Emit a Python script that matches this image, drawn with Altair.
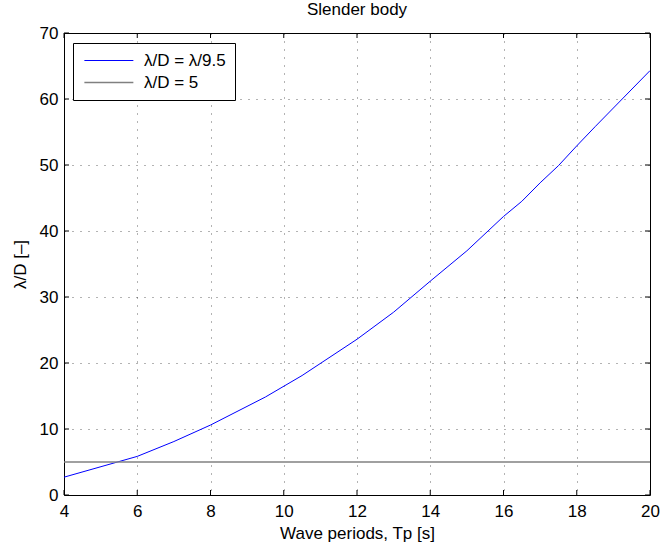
import altair as alt
import pandas as pd

# Curve: lambda/D = lambda/9.5
tp_curve = [4, 6, 7, 8, 9.5, 10.5, 12, 13, 14, 15, 16, 16.5, 17, 17.5, 18, 18.5, 20]
ld_curve = [2.7, 5.85, 8.1, 10.6, 14.85, 18.1, 23.6, 27.7, 32.4, 37.0, 42.2, 44.5, 47.3, 49.9, 52.9, 55.8, 64.3]

# Horizontal limit lambda/D = 5
tp_limit = [4, 20]
ld_limit = [5, 5]

series_names = ["λ/D = λ/9.5", "λ/D = 5"]
series_colors = ["#0000ff", "#808080"]
series_widths = [1.0, 1.6]

x_ticks = [4, 6, 8, 10, 12, 14, 16, 18, 20]
y_ticks = [0, 10, 20, 30, 40, 50, 60, 70]

FONT = "Liberation Sans"
W, H = 586, 462
TICK = 5

df = pd.concat([
    pd.DataFrame({"Tp": tp_curve, "LD": ld_curve, "series": series_names[0], "order": range(len(tp_curve))}),
    pd.DataFrame({"Tp": tp_limit, "LD": ld_limit, "series": series_names[1], "order": range(len(tp_limit))}),
])

xscale = alt.Scale(domain=[4, 20], nice=False, zero=False)
yscale = alt.Scale(domain=[0, 70], nice=False, zero=False)

lines = alt.Chart(df).mark_line(clip=True).encode(
    x=alt.X("Tp:Q", scale=xscale, title="Wave periods, Tp [s]",
            axis=alt.Axis(values=x_ticks, grid=True, domain=False, ticks=False,
                          labelPadding=8, titlePadding=6, labelFlush=False)),
    y=alt.Y("LD:Q", scale=yscale, title="λ/D [–]",
            axis=alt.Axis(values=y_ticks, grid=True, domain=False, ticks=False,
                          labelPadding=6, titlePadding=10, labelFlush=False)),
    color=alt.Color("series:N", scale=alt.Scale(domain=series_names, range=series_colors),
                    title=None,
                    legend=alt.Legend(orient="none", legendX=9, legendY=10,
                                      symbolType="M-1,0H7", symbolSize=150,
                                      symbolStrokeWidth=1.5, labelFontSize=17,
                                      labelFont=FONT, labelColor="black",
                                      labelOffset=45, padding=9, rowPadding=4,
                                      strokeColor="black", fillColor="white",
                                      cornerRadius=0)),
    strokeWidth=alt.StrokeWidth("series:N", scale=alt.Scale(domain=series_names, range=series_widths), legend=None),
    detail="series:N",
    order="order:Q",
)

xt = pd.DataFrame({"Tp": x_ticks})
yt = pd.DataFrame({"LD": y_ticks})

xticks_bottom = alt.Chart(xt).mark_rule(color="black", strokeWidth=1).encode(
    x=alt.X("Tp:Q", scale=xscale), y=alt.value(H), y2=alt.value(H - TICK))
xticks_top = alt.Chart(xt).mark_rule(color="black", strokeWidth=1).encode(
    x=alt.X("Tp:Q", scale=xscale), y=alt.value(0), y2=alt.value(TICK))
yticks_left = alt.Chart(yt).mark_rule(color="black", strokeWidth=1).encode(
    y=alt.Y("LD:Q", scale=yscale), x=alt.value(0), x2=alt.value(TICK))
yticks_right = alt.Chart(yt).mark_rule(color="black", strokeWidth=1).encode(
    y=alt.Y("LD:Q", scale=yscale), x=alt.value(W), x2=alt.value(W - TICK))

chart = alt.layer(lines, xticks_bottom, xticks_top, yticks_left, yticks_right).properties(
    width=W, height=H,
    title=alt.TitleParams("Slender body", fontSize=17, font=FONT, fontWeight="normal",
                          color="black", anchor="middle", frame="group", offset=5),
    autosize=alt.AutoSizeParams(type="none"),
    padding={"left": 64, "top": 33, "right": 10, "bottom": 50},
).configure(
    background="white"
).configure_view(
    stroke="black", strokeWidth=1
).configure_axis(
    labelFont=FONT, titleFont=FONT, labelFontSize=17, titleFontSize=17,
    labelColor="black", titleColor="black", titleFontWeight="normal",
    gridColor="black", gridDash=[1, 7], gridOpacity=0.6, gridWidth=1,
)

chart.save("out.html", embed_options={"renderer": "svg", "actions": False})
